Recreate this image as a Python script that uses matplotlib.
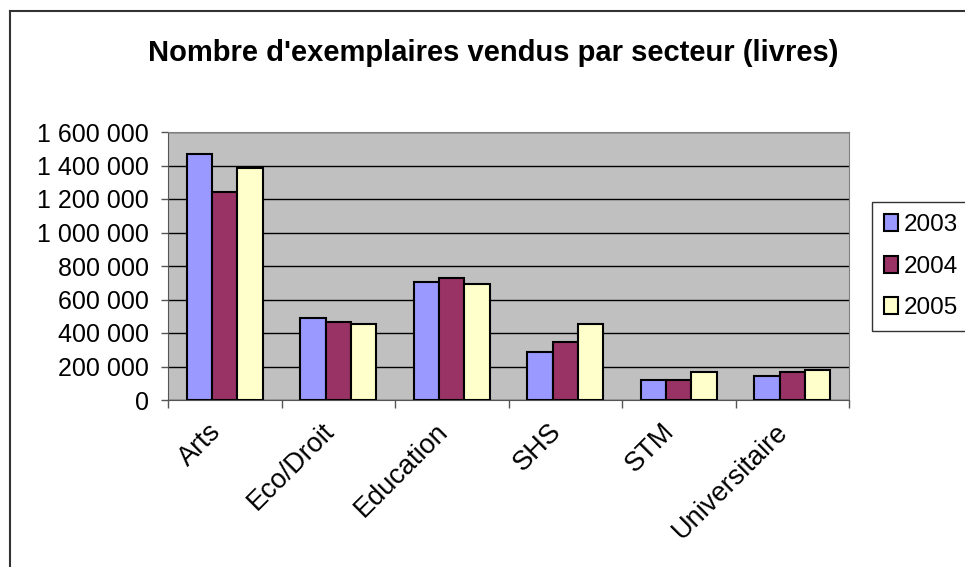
import matplotlib.pyplot as plt
import numpy as np
from matplotlib.lines import Line2D

plt.rcParams['font.family'] = ['Liberation Sans', 'DejaVu Sans']

secteurs = ['Arts', 'Eco/Droit', 'Education', 'SHS', 'STM', 'Universitaire']
annees = ['2003', '2004', '2005']
v2003 = [1469000, 488000, 703000, 285000, 119000, 143000]
v2004 = [1242000, 464000, 728000, 346000, 119000, 167000]
v2005 = [1383000, 454000, 693000, 454000, 167000, 177000]
couleurs = ['#9999FF', '#993366', '#FFFFCC']
yticks = [0, 200000, 400000, 600000, 800000, 1000000, 1200000, 1400000, 1600000]


def fmt(v):
	return str.format("{:,}", v).replace(',', ' ')


fig = plt.figure(figsize=(9.65, 5.67), dpi=100)
axes = fig.add_axes([168/965, 1-400/567, (849-168)/965, (400-132)/567])
axes.set_facecolor('#C0C0C0')

idx = np.arange(len(secteurs))
w = 0.222
for i, (vals, c) in enumerate(zip([v2003, v2004, v2005], couleurs)):
	axes.bar(idx + (i-1)*w, vals, w, color=c, edgecolor='black', linewidth=1.5,
		label=annees[i], zorder=3)

axes.set_xlim(-0.5, len(secteurs)-0.5)
axes.set_ylim(0, 1600000)
axes.set_yticks(yticks, [fmt(v) for v in yticks], fontsize=18)
axes.yaxis.grid(True, color='black', linewidth=1, zorder=1)
axes.set_axisbelow(True)
axes.tick_params(axis='y', length=5, width=1, color='#555555', pad=9)

# ticks between categories, labels near centers
axes.set_xticks(np.arange(len(secteurs)+1)-0.5)
axes.set_xticklabels([])
axes.set_xticks(idx - 0.07, minor=True)
axes.set_xticklabels(secteurs, minor=True, rotation=45, ha='right', va='center',
	rotation_mode='anchor', fontsize=19.5)
axes.tick_params(axis='x', which='major', length=6, width=1, color='#555555')
axes.tick_params(axis='x', which='minor', length=0, pad=20)
for s in ['top', 'right']:
	axes.spines[s].set_color('#808080')
for s in ['left', 'bottom']:
	axes.spines[s].set_color('#555555')

fig.text(493/965, 1-53/567, "Nombre d'exemplaires vendus par secteur (livres)",
	ha='center', va='center', fontsize=21, fontweight='bold')

leg = fig.legend(loc='upper left', bbox_to_anchor=(872/965, 1-202/567), fontsize=17.5,
	frameon=True, fancybox=False, edgecolor='black', handlelength=0.55,
	handleheight=0.7, handletextpad=0.25, labelspacing=0.8, borderpad=0.5,
	borderaxespad=0)
leg.get_frame().set_linewidth(1)

# outer chart frame
fig.add_artist(Line2D([10/965, 10/965], [0, 1-11/567], color='#333333', linewidth=1.5))
fig.add_artist(Line2D([10/965, 1], [1-11/567, 1-11/567], color='#333333', linewidth=1.5))

fig.savefig('out.png', dpi=100)
